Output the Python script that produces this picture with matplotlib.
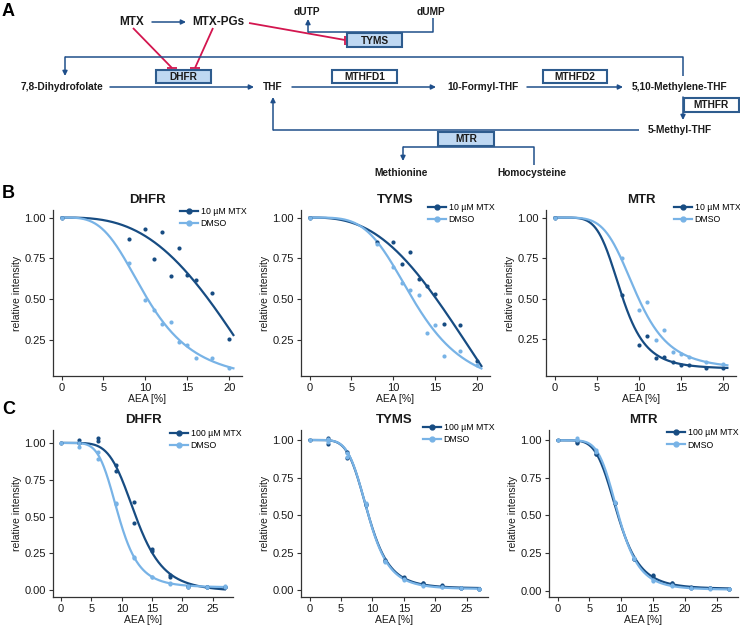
import numpy as np
import matplotlib
matplotlib.use('Agg')
import matplotlib.pyplot as plt
from matplotlib.lines import Line2D
from matplotlib.patches import Rectangle

plt.rcParams['font.family'] = ['Liberation Sans', 'DejaVu Sans']

# ---- data ----
b_dose = [0, 8, 10, 11, 12, 13, 14, 15, 16, 18, 20]
b_dhfr_mtx = [1.00, 0.865, 0.932, 0.748, 0.912, 0.639, 0.811, 0.645, 0.619, 0.533, 0.252]
b_dhfr_dmso = [1.00, 0.719, 0.494, 0.434, 0.346, 0.357, 0.234, 0.219, 0.139, 0.135, 0.072]
b_tyms_mtx = [1.00, 0.850, 0.852, 0.717, 0.791, 0.623, 0.582, 0.535, 0.350, 0.340, 0.121]
b_tyms_dmso = [1.00, 0.838, 0.699, 0.598, 0.557, 0.529, 0.295, 0.344, 0.152, 0.182, 0.100]
b_mtr_mtx = [1.00, 0.520, 0.213, 0.273, 0.135, 0.141, 0.107, 0.094, 0.094, 0.070, 0.074]
b_mtr_dmso = [1.00, 0.752, 0.428, 0.480, 0.244, 0.305, 0.172, 0.162, 0.141, 0.111, 0.096]

c_dose = [0, 3, 3, 6, 6, 9, 9, 12, 12, 15, 15, 18, 18, 21, 21, 24, 24, 27, 27]
c_dhfr_mtx = [1.00, 1.020, 1.000, 1.036, 1.013, 0.848, 0.808, 0.602, 0.456, 0.282, 0.270,
              0.103, 0.092, 0.030, 0.025, 0.025, 0.022, 0.020, 0.025]
c_dhfr_dmso = [1.00, 0.969, 1.000, 0.935, 0.893, 0.584, 0.590, 0.226, 0.220, 0.090, 0.092,
               0.051, 0.045, 0.029, 0.025, 0.025, 0.022, 0.029, 0.025]
c_tyms_mtx = [1.00, 1.016, 0.971, 0.922, 0.882, 0.576, 0.565, 0.192, 0.198, 0.085, 0.078,
              0.051, 0.045, 0.033, 0.025, 0.013, 0.015, 0.007, 0.005]
c_tyms_dmso = [1.00, 1.004, 0.985, 0.915, 0.885, 0.580, 0.570, 0.195, 0.190, 0.067, 0.072,
               0.030, 0.035, 0.020, 0.022, 0.013, 0.012, 0.007, 0.006]
c_mtr_mtx = [1.00, 0.980, 0.990, 0.906, 0.910, 0.586, 0.580, 0.212, 0.210, 0.105, 0.100,
             0.051, 0.048, 0.022, 0.020, 0.018, 0.015, 0.011, 0.010]
c_mtr_dmso = [1.00, 1.018, 1.005, 0.935, 0.925, 0.590, 0.585, 0.215, 0.208, 0.067, 0.070,
              0.035, 0.032, 0.020, 0.018, 0.015, 0.013, 0.010, 0.012]

DARK = '#174C82'
LIGHT = '#78B3E6'
RED = '#D3164F'
PATH = '#1F4F8A'
BOXFILL = '#BFD8F2'
TXT = '#1a1a1a'

W, H = 740, 625
fig = plt.figure(figsize=(W / 100, H / 100), dpi=100)


def fit_ll3(x, y):
    # log-logistic fit, top fixed at 1, free lower asymptote, least squares over a grid
    x = np.asarray(x, float)
    y = np.asarray(y, float)
    e_grid = np.exp(np.linspace(np.log(2), np.log(200), 360))
    h_grid = np.linspace(0.5, 12, 231)
    E, Hh = np.meshgrid(e_grid, h_grid, indexing='ij')
    z = (x[None, None, :] / E[..., None]) ** Hh[..., None]
    s = z / (1 + z)
    r = 1 - y
    a = (s * r).sum(-1) / (s * s).sum(-1)
    a = np.clip(a, 0, 3)
    sse = ((r[None, None, :] - a[..., None] * s) ** 2).sum(-1)
    i, j = np.unravel_index(np.argmin(sse), sse.shape)
    return E[i, j], Hh[i, j], 1 - a[i, j]


def ll3(x, e, h, b):
    return b + (1 - b) / (1 + (x / e) ** h)


def px_axes(left, right, top, bottom):
    return fig.add_axes([left / W, 1 - bottom / H, (right - left) / W, (bottom - top) / H])


def panel(box, title, dose, mtx, dmso, xmax, xticks, yticks, label, leg_xy):
    ax = px_axes(*box)
    xs = np.linspace(0, xmax, 300)
    for ys, col in ((mtx, DARK), (dmso, LIGHT)):
        e, h, b = fit_ll3(dose, ys)
        ax.plot(xs, ll3(xs, e, h, b), color=col, lw=1.6, zorder=2)
        ax.plot(dose, ys, 'o', color=col, ms=3, mew=0, zorder=3)
    ax.margins(0.05)
    ax.set_xticks(xticks)
    ax.set_yticks(yticks)
    ax.set_yticklabels(['%.2f' % v for v in yticks])
    for s in ('top', 'right'):
        ax.spines[s].set_visible(False)
    for s in ('left', 'bottom'):
        ax.spines[s].set_color('#333333')
        ax.spines[s].set_linewidth(0.9)
    ax.tick_params(labelsize=8, length=3, width=0.8, color='#333333', labelcolor=TXT, pad=2)
    ax.set_xlabel('AEA [%]', fontsize=7.5, color=TXT, labelpad=1)
    ax.set_ylabel('relative intensity', fontsize=7.5, color=TXT, labelpad=2)
    ax.set_title(title, fontsize=9.5, fontweight='bold', color=TXT, pad=5)
    handles = [Line2D([], [], color=DARK, lw=1.6, marker='o', ms=3.5),
               Line2D([], [], color=LIGHT, lw=1.6, marker='o', ms=3.5)]
    ax.legend(handles, [label, 'DMSO'], loc='upper left',
              bbox_to_anchor=(leg_xy[0] / W, 1 - leg_xy[1] / H),
              bbox_transform=fig.transFigure, frameon=False, fontsize=6.3,
              handlelength=2.0, handletextpad=0.35, borderpad=0, borderaxespad=0,
              labelspacing=0.4)
    return ax


# ---- diagram (panel A) in pixel coordinates ----
dg = fig.add_axes([0, 0, 1, 1])
dg.set_xlim(0, W)
dg.set_ylim(H, 0)
dg.axis('off')


def arrow(p0, p1, col=PATH):
    dg.annotate('', xy=p1, xytext=p0,
                arrowprops=dict(arrowstyle='-|>', color=col, lw=1.1,
                                shrinkA=0, shrinkB=0, mutation_scale=7))


def line(pts, col=PATH, lw=1.1):
    xs, ys = zip(*pts)
    dg.plot(xs, ys, color=col, lw=lw, solid_capstyle='butt')


def box(x0, x1, y0, y1, txt, filled):
    dg.add_patch(Rectangle((x0, y0), x1 - x0, y1 - y0, facecolor=BOXFILL if filled else 'white',
                           edgecolor='#2E5C8E', lw=1.5, zorder=3))
    dg.text((x0 + x1) / 2, (y0 + y1) / 2 + 0.5, txt, ha='center', va='center', fontsize=7.3,
            fontweight='bold', color=TXT, zorder=4)


def lab(x, y, txt, size=7.3):
    dg.text(x, y, txt, ha='center', va='center', fontsize=size, fontweight='bold', color=TXT)


for t, y in (('A', 11), ('B', 193), ('C', 409)):
    dg.text(2, y, t, ha='left', va='center', fontsize=13, fontweight='bold', color='black')

lab(132, 22, 'MTX', 8.5)
arrow((152, 22), (186, 22))
lab(218, 22, 'MTX-PGs', 8.5)
lab(307, 12, 'dUTP')
lab(431, 12, 'dUMP')

# inhibition lines
line([(133, 28), (172, 68)], RED, 1.3)
line([(167, 68), (177, 68)], RED, 1.3)
line([(213, 28), (195, 68)], RED, 1.3)
line([(190, 68), (200, 68)], RED, 1.3)
line([(249, 23), (345, 40)], RED, 1.3)
line([(345, 35.5), (345, 44.5)], RED, 1.3)

line([(433, 18), (433, 32), (308, 32)])
arrow((308, 32), (308, 19))
box(347, 402, 33, 47, 'TYMS', True)

line([(683, 76), (683, 57), (65, 57)])
arrow((65, 57), (65, 76))

lab(62, 87, '7,8-Dihydrofolate')
arrow((110, 87), (254, 87))
box(156, 211, 70, 83, 'DHFR', True)
lab(273, 87, 'THF')
arrow((292, 87), (436, 87))
box(332, 397, 70, 83, 'MTHFD1', False)
lab(483, 87, '10-Formyl-THF')
arrow((527, 87), (623, 87))
box(543, 607, 70, 83, 'MTHFD2', False)
lab(680, 87, '5,10-Methylene-THF')
arrow((683, 97), (683, 120))
box(684, 739, 98, 112, 'MTHFR', False)
lab(680, 130, '5-Methyl-THF')
line([(639, 130), (273, 130)])
arrow((273, 130), (273, 97))
box(438, 494, 132, 146, 'MTR', True)
line([(534, 165), (534, 147), (403, 147)])
arrow((403, 147), (403, 161))
lab(401, 173, 'Methionine')
lab(532, 173, 'Homocysteine')

# ---- panels B and C ----
bt = [0, 5, 10, 15, 20]
ct = [0, 5, 10, 15, 20, 25]
by = [0.25, 0.50, 0.75, 1.00]
cy = [0.00, 0.25, 0.50, 0.75, 1.00]

panel((53, 242, 210, 376), 'DHFR', b_dose, b_dhfr_mtx, b_dhfr_dmso, 20.5, bt, by, '10 µM MTX', (180, 207))
panel((301, 490, 210, 376), 'TYMS', b_dose, b_tyms_mtx, b_tyms_dmso, 20.5, bt, by, '10 µM MTX', (428, 203))
panel((546, 736, 210, 376), 'MTR', b_dose, b_mtr_mtx, b_mtr_dmso, 20.5, bt, by, '10 µM MTX', (674, 203))

panel((53, 233, 430, 597), 'DHFR', c_dose, c_dhfr_mtx, c_dhfr_dmso, 27, ct, cy, '100 µM MTX', (170, 429))
panel((301, 488, 430, 597), 'TYMS', c_dose, c_tyms_mtx, c_tyms_dmso, 27, ct, cy, '100 µM MTX', (423, 423))
panel((549, 738, 430, 597), 'MTR', c_dose, c_mtr_mtx, c_mtr_dmso, 27, ct, cy, '100 µM MTX', (667, 428))

fig.savefig('out.png', dpi=100)
